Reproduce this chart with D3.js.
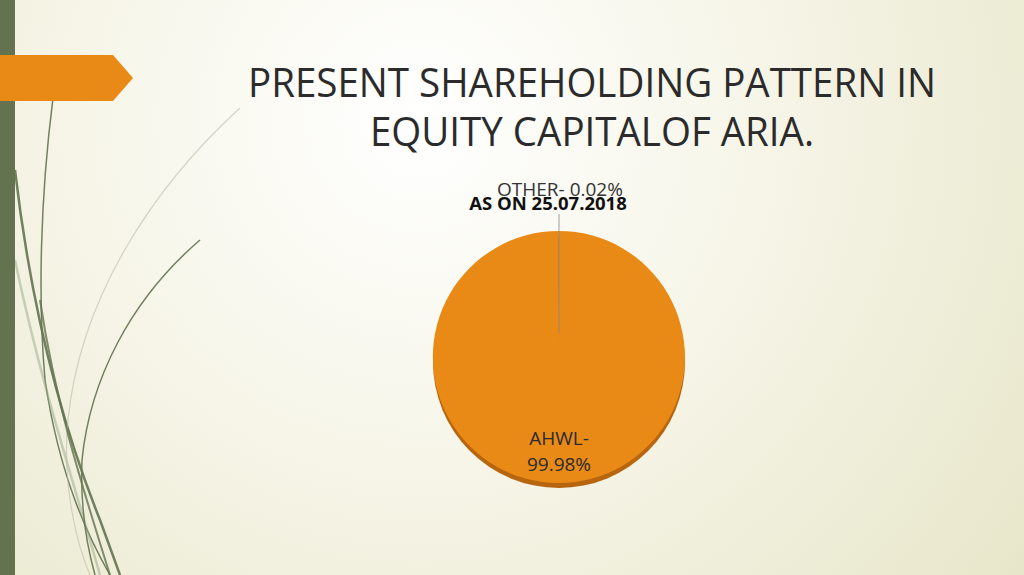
<!DOCTYPE html>
<html><head><meta charset="utf-8">
<script src="https://cdn.jsdelivr.net/npm/d3@7"></script>
<style>body{margin:0;overflow:hidden}svg{display:block}</style>
</head><body>
<script>
const categories = ["AHWL", "OTHER"];
const values = [99.98, 0.02];
const labels = ["AHWL-|99.98%", "OTHER- 0.02%"];
const titleLines = ["PRESENT SHAREHOLDING PATTERN IN", "EQUITY CAPITALOF ARIA."];
const subtitle = "AS ON 25.07.2018";

const W = 1024, H = 575;
const svg = d3.select("body").append("svg").attr("width", W).attr("height", H);
const defs = svg.append("defs");
const rg = defs.append("radialGradient").attr("id","bg").attr("gradientUnits","userSpaceOnUse")
  .attr("cx",420).attr("cy",120).attr("r",900);
rg.append("stop").attr("offset","0").attr("stop-color","#ffffff");
rg.append("stop").attr("offset","0.35").attr("stop-color","#f7f6ea");
rg.append("stop").attr("offset","1").attr("stop-color","#e3e1bf");
svg.append("rect").attr("width",W).attr("height",H).attr("fill","url(#bg)");

const curves = [
  {d:"M53,98 C40,200 38,300 45,380 C60,480 90,540 110,575", c:"#637350", w:1.5, o:0.9},
  {d:"M15,170 C30,300 60,420 100,520 L120,575", c:"#637350", w:2.5, o:0.9},
  {d:"M15,260 C40,380 70,470 100,575", c:"#9aa88a", w:2.5, o:0.5},
  {d:"M240,108 C150,190 80,300 68,420 C62,480 75,540 90,575", c:"#b8bcaa", w:1.2, o:0.6},
  {d:"M200,240 C130,300 90,380 82,460 C80,510 88,550 95,575", c:"#637350", w:1.5, o:0.9},
  {d:"M40,300 C55,400 80,480 110,575", c:"#637350", w:2, o:0.8}
];
svg.selectAll("path.curve").data(curves).join("path").attr("class","curve")
  .attr("d",d=>d.d).attr("fill","none").attr("stroke",d=>d.c).attr("stroke-width",d=>d.w).attr("opacity",d=>d.o);

svg.append("rect").attr("x",0).attr("y",0).attr("width",15).attr("height",H).attr("fill","#637350");
svg.append("path").attr("d","M0,55 L113,55 L133,78 L113,101 L0,101 Z").attr("fill","#e98a17");

svg.selectAll("text.title").data(titleLines).join("text").attr("class","title")
  .attr("x",592).attr("y",(d,i)=>94+i*48).attr("text-anchor","middle")
  .attr("font-family","'Open Sans', sans-serif").attr("font-size",38.5).attr("fill","#2b2b2b")
  .attr("transform","translate(592,0) scale(1,1.03) translate(-592,0)").text(d=>d);

const cx = 559, cy = 357, r = 126;
const pie = d3.pie().sort(null).startAngle(-0.0006).endAngle(2*Math.PI-0.0006);
const arcs = pie(values);
const arc = d3.arc().innerRadius(0).outerRadius(r);
const g = svg.append("g");
g.append("ellipse").attr("cx",cx).attr("cy",cy+5).attr("rx",r).attr("ry",r).attr("fill","#b8650f");
g.selectAll("path.slice").data(arcs).join("path").attr("class","slice")
  .attr("transform",`translate(${cx},${cy})`).attr("d",arc)
  .attr("fill",(d,i)=>i===0?"#e98a17":"#d07810");

svg.append("line").attr("x1",cx).attr("x2",cx).attr("y1",214).attr("y2",333)
  .attr("stroke","#888").attr("stroke-width",0.8);

svg.append("text").attr("x",560).attr("y",196).attr("text-anchor","middle")
  .attr("font-family","'Open Sans', sans-serif").attr("font-size",19).attr("fill","#333").text(labels[1]);
svg.append("text").attr("x",548).attr("y",210).attr("text-anchor","middle")
  .attr("font-family","'Open Sans', sans-serif").attr("font-weight","bold").attr("font-size",18.5).attr("fill","#111").text(subtitle);

svg.selectAll("text.ahwl").data(labels[0].split("|")).join("text").attr("class","ahwl")
  .attr("x",559).attr("y",(d,i)=>445+i*26).attr("text-anchor","middle")
  .attr("font-family","'Open Sans', sans-serif").attr("font-size",19).attr("fill","#2b2b2b").text(d=>d);
</script>
</body></html>
